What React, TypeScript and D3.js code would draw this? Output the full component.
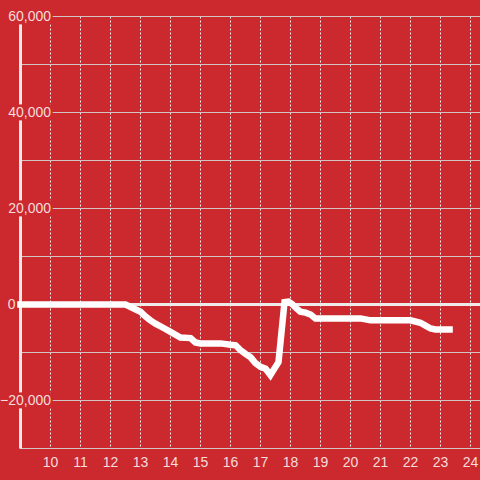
import React, { useLayoutEffect, useRef, useState } from "react";
import * as d3 from "d3";

const hours = [8.88, 12.5, 13.0, 13.17, 13.33, 13.5, 13.83, 14.0, 14.17, 14.33, 14.67, 14.83, 15.0, 15.67, 16.0, 16.17, 16.33, 16.5, 16.67, 16.83, 17.0, 17.17, 17.33, 17.5, 17.6, 17.8, 17.93, 18.05, 18.2, 18.33, 18.5, 18.67, 18.83, 20.33, 20.5, 20.67, 22.0, 22.33, 22.5, 22.67, 22.83, 23.41];
const values = [0, 0, -1500, -2500, -3300, -4000, -5100, -5700, -6300, -6900, -7000, -7900, -8100, -8100, -8400, -8500, -9500, -10300, -11000, -12200, -13000, -13400, -14700, -13000, -12000, 500, 600, 100, -800, -1500, -1700, -2100, -2900, -2900, -3100, -3300, -3300, -3800, -4400, -5000, -5200, -5200];

const yGridValues = [-30000, -20000, -10000, 0, 10000, 20000, 30000, 40000, 50000, 60000];
const yLabelValues = [-20000, 0, 20000, 40000, 60000];
const xTickValues = [10, 11, 12, 13, 14, 15, 16, 17, 18, 19, 20, 21, 22, 23, 24];

const W = 480;
const H = 480;
const BG = "#cc292e";
const TEXT = "#f5dcdd";

function YLabel({ x, y, text }: { x: number; y: number; text: string }) {
  const ref = useRef<SVGTextElement>(null);
  const [box, setBox] = useState<{ x: number; y: number; w: number; h: number } | null>(null);
  useLayoutEffect(() => {
    if (ref.current) {
      const b = ref.current.getBBox();
      setBox({ x: b.x, y: b.y, w: b.width, h: b.height });
    }
  }, [x, y, text]);
  return (
    <g>
      {box && (
        <rect x={box.x - 1.5} y={box.y} width={box.w + 3} height={box.h} fill={BG} />
      )}
      <text ref={ref} x={x} y={y} dy="0.35em" fontSize={14} fill={TEXT} textAnchor="end">
        {text}
      </text>
    </g>
  );
}

export default function App() {
  const x = d3.scaleLinear().domain([9, 24]).range([20.5, 470.5]);
  const y = d3.scaleLinear().domain([-30000, 60000]).range([448.5, 16.5]);
  const pts = hours.map((h, i) => [h, values[i]] as [number, number]);
  const line = d3
    .line<[number, number]>()
    .x((d) => x(d[0]))
    .y((d) => y(d[1]));
  const fmt = d3.format(",");
  return (
    <svg
      width={W}
      height={H}
      style={{ position: "absolute", left: 0, top: 0, display: "block" }}
      fontFamily="'Liberation Sans', Arial, sans-serif"
    >
      <rect x={0} y={0} width={W} height={H} fill={BG} />
      {xTickValues.map((t) => (
        <line
          key={"vx" + t}
          x1={x(t)}
          x2={x(t)}
          y1={y(60000)}
          y2={y(-30000)}
          stroke="#eee"
          strokeWidth={1}
          strokeDasharray="2,2"
        />
      ))}
      {yGridValues.map((v) => (
        <line
          key={"hy" + v}
          x1={20}
          x2={W}
          y1={y(v)}
          y2={y(v)}
          stroke="#d0c4c4"
          strokeWidth={1}
        />
      ))}
      <line x1={17} x2={W} y1={y(0)} y2={y(0)} stroke="#efeaea" strokeWidth={3} />
      <line x1={20.5} x2={20.5} y1={y(60000)} y2={y(-30000)} stroke="#efeaea" strokeWidth={3} />
      <path
        d={line(pts) || ""}
        fill="none"
        stroke="#ffffff"
        strokeWidth={6.5}
        strokeLinejoin="miter"
        strokeLinecap="butt"
      />
      {yLabelValues.map((v) => (
        <YLabel key={"yl" + v} x={v === 0 ? 15.5 : 51} y={y(v)} text={fmt(v)} />
      ))}
      {xTickValues.map((t) => (
        <text
          key={"xl" + t}
          x={x(t)}
          y={467}
          fontSize={14}
          fill={TEXT}
          textAnchor="middle"
        >
          {t}
        </text>
      ))}
    </svg>
  );
}
